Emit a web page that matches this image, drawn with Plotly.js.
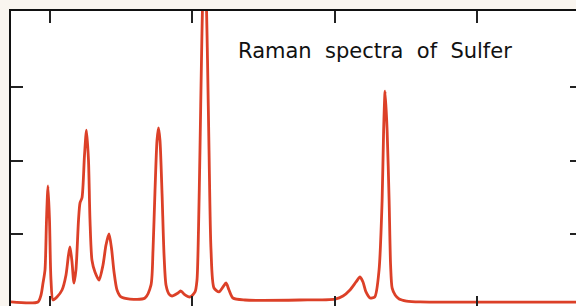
<!DOCTYPE html>
<html>
<head>
<meta charset="utf-8">
<script src="https://cdn.plot.ly/plotly-3.0.1.min.js"></script>
<style>
html,body{margin:0;padding:0;overflow:hidden;background:#f9f5ef;width:576px;height:306px;}
#chart{width:590px;height:320px;}
</style>
</head>
<body>
<div id="chart"></div>
<script>
// Raman shift (cm^-1) and intensity (a.u.)
const ramanShift = [-54.8,-16.9,-12.6,-9.8,-7.0,-4.9,-2.8,-0.7,1.4,4.2,9.8,16.9,22.5,26.0,28.1,30.9,33.7,36.5,40.1,42.2,45.0,48.5,51.3,54.1,56.2,59.0,63.2,68.9,74.5,78.7,82.9,86.4,90.0,94.2,99.8,112.4,133.5,
  141.9,144.8,147.6,150.4,152.5,154.6,157.5,160.3,163.1,167.3,171.5,179.9,184.1,188.4,196.8,
  203.8,206.6,208.7,210.8,212.9,215.0,217.2,219.3,221.4,223.5,226.3,230.5,237.5,243.2,247.4,251.6,257.2,274.1,351.4,400.6,411.8,421.6,430.1,435.7,439.9,444.1,449.8,456.4,
  462.5,466.8,468.9,471.0,473.8,476.6,478.7,480.9,485.1,490.7,501.0,520.1,600.0,747.7];
const intensity = [0.082,0.082,0.177,0.34,0.52,1.20,1.66,1.20,0.38,0.11,0.15,0.245,0.45,0.72,0.83,0.63,0.34,0.52,1.20,1.43,1.50,2.08,2.42,2.01,1.20,0.65,0.49,0.38,0.585,0.857,1.007,0.816,0.49,0.245,0.15,0.122,0.136,
  0.31,0.79,1.60,2.28,2.45,2.28,1.55,0.72,0.31,0.19,0.163,0.204,0.231,0.19,0.15,
  0.218,0.38,1.06,2.15,3.37,4.3,4.6,4.3,3.37,2.15,0.79,0.272,0.218,0.286,0.34,0.245,0.136,0.109,0.109,0.122,0.163,0.245,0.354,0.422,0.354,0.218,0.136,0.15,
  0.52,1.47,2.42,2.95,2.42,1.47,0.58,0.27,0.177,0.122,0.095,0.082,0.08,0.08];
const xTicks = [0,200,400,600];
const yTicks = [0,1,2,3];
const titleText = "Raman\u00a0 spectra\u00a0 of\u00a0 Sulfer";

const trace = {
  x: ramanShift, y: intensity, type: 'scatter', mode: 'lines',
  line: {color: '#dc4028', width: 2.8, shape: 'spline', smoothing: 0.7},
  hoverinfo: 'skip'
};
const axisCommon = {
  showline: true, mirror: 'ticks', linecolor: '#111', linewidth: 2,
  ticks: 'inside', ticklen: 12, tickwidth: 2, tickcolor: '#222',
  showticklabels: false, showgrid: false, zeroline: false, tickmode: 'array'
};
const layout = {
  width: 590, height: 320,
  margin: {l: 11, r: 8, t: 11, b: 12},
  paper_bgcolor: '#f9f5ef', plot_bgcolor: '#ffffff',
  showlegend: false,
  xaxis: Object.assign({}, axisCommon, {range: [-54.8, 747.7], tickvals: xTicks}),
  yaxis: Object.assign({}, axisCommon, {range: [0, 4.04], tickvals: yTicks}),
  annotations: [{
    xref: 'paper', yref: 'paper', x: 0.394, y: 0.865, xanchor: 'left', yanchor: 'middle',
    text: titleText, showarrow: false,
    font: {family: 'DejaVu Sans, Verdana, sans-serif', size: 21, color: '#111'}
  }]
};
Plotly.newPlot('chart', [trace], layout, {staticPlot: true, displayModeBar: false});
</script>
</body>
</html>
